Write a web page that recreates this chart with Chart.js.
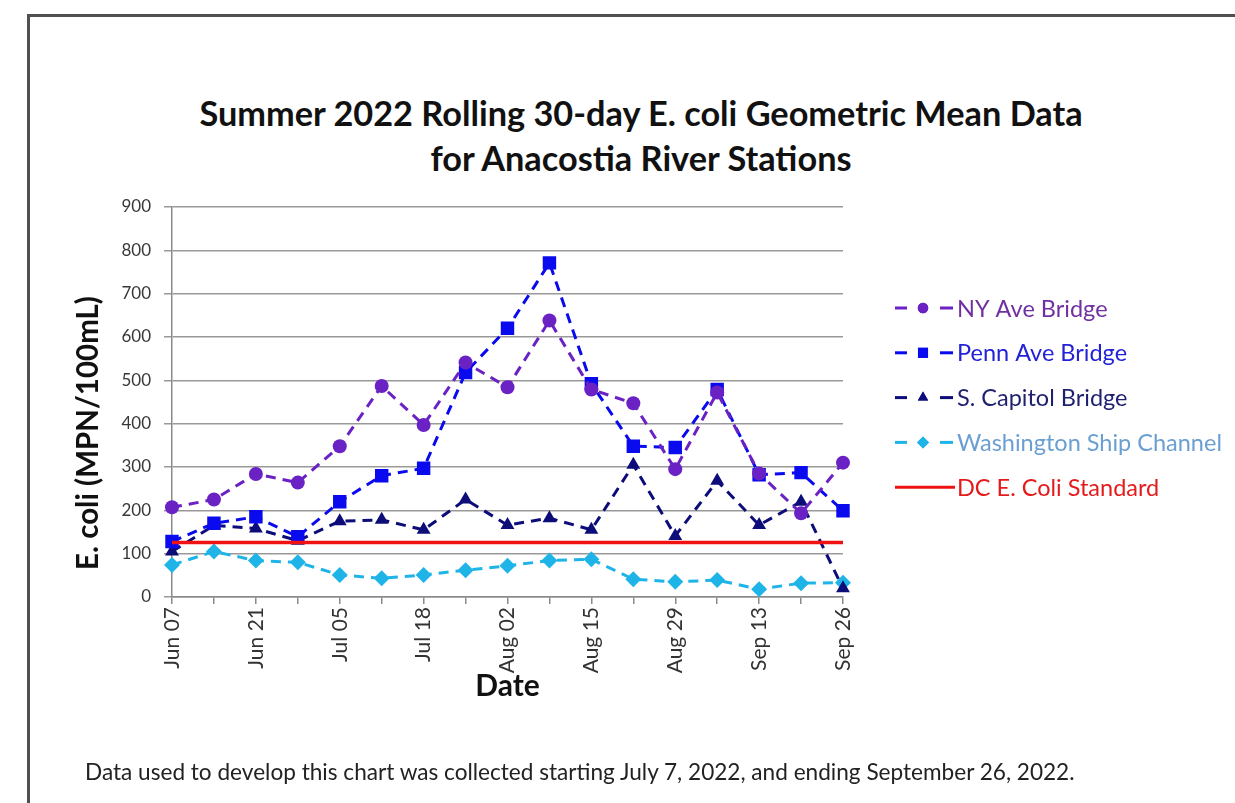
<!DOCTYPE html>
<html><head><meta charset="utf-8">
<script src="https://cdn.jsdelivr.net/npm/chart.js@4.4.1/dist/chart.umd.min.js"></script>
<style>
html,body{margin:0;padding:0;background:#fff;width:1235px;height:803px;overflow:hidden;font-family:Lato,sans-serif}
#frame{position:absolute;left:27px;top:14px;width:1300px;height:900px;border-left:3px solid #505050;border-top:3px solid #505050}
#wrap{position:absolute;left:0;top:0;width:1235px;height:803px}
#title{position:absolute;left:141px;width:1000px;top:90px;text-align:center;font-weight:bold;font-size:34.3px;line-height:45px;color:#111;white-space:nowrap}
#foot{position:absolute;left:85px;top:758px;font-size:22.6px;color:#222;white-space:nowrap}
</style></head><body>
<div id="frame"></div>
<div id="title">Summer 2022 Rolling 30-day E. coli Geometric Mean Data<br>for Anacostia River Stations</div>
<div id="wrap"><canvas id="c"></canvas></div>
<div id="foot">Data used to develop this chart was collected starting July 7, 2022, and ending September 26, 2022.</div>
<script>
const dates = ['Jun 07','Jun 14','Jun 21','Jun 28','Jul 05','Jul 12','Jul 18','Jul 25','Aug 02','Aug 08','Aug 15','Aug 22','Aug 29','Sep 06','Sep 13','Sep 20','Sep 26'];
const nyAve      = [207, 225, 284, 264, 348, 487, 397, 541, 484, 638, 479, 447, 295, 472, 285, 193, 310];
const pennAve    = [128, 170, 185, 139, 220, 280, 297, 518, 620, 771, 492, 348, 345, 479, 282, 287, 199];
const sCapitol   = [105, 165, 158, 130, 175, 178, 155, 225, 166, 182, 155, 305, 141, 268, 166, 220, 20];
const shipChannel= [74, 105, 84, 80, 51, 43, 51, 62, 72, 84, 87, 41, 35, 39, 18, 32, 33];
const dcStandard = [126, 126, 126, 126, 126, 126, 126, 126, 126, 126, 126, 126, 126, 126, 126, 126, 126];
const yTicks = [0, 100, 200, 300, 400, 500, 600, 700, 800, 900];

const seriesNames = ['NY Ave Bridge','Penn Ave Bridge','S. Capitol Bridge','Washington Ship Channel','DC E. Coli Standard'];
const legendText = ['#7030A0','#2323D6','#1F1F70','#6A9FD2','#E41B1B'];
const yTitle = 'E. coli (MPN/100mL)';

const dash = [10, 7];
function ds(label, data, color, style, r) {
  return {label, data, borderColor: color, backgroundColor: color, borderWidth: 3,
    borderDash: dash, pointStyle: style, pointRadius: r, pointHoverRadius: r,
    pointBorderWidth: 0, tension: 0, fill: false};
}

const legendPlugin = {
  id: 'customLegend',
  afterDraw(chart) {
    const ctx = chart.ctx;
    const x0 = 895, y0 = 308, step = 44.8;
    chart.data.datasets.forEach((d, i) => {
      const y = y0 + i * step;
      ctx.save();
      ctx.strokeStyle = d.borderColor;
      ctx.lineWidth = 3;
      if (d.pointRadius > 0) {
        ctx.beginPath(); ctx.moveTo(x0, y); ctx.lineTo(x0 + 12, y); ctx.stroke();
        ctx.beginPath(); ctx.moveTo(x0 + 45, y); ctx.lineTo(x0 + 58, y); ctx.stroke();
        ctx.fillStyle = d.backgroundColor;
        Chart.helpers.drawPoint(ctx, {pointStyle: d.pointStyle, radius: d.pointRadius * 0.75, rotation: 0, borderWidth: 0}, x0 + 28, y);
        ctx.fill();
      } else {
        ctx.beginPath(); ctx.moveTo(x0, y); ctx.lineTo(x0 + 60, y); ctx.stroke();
      }
      ctx.fillStyle = legendText[i];
      ctx.font = '23.5px Lato, sans-serif';
      ctx.textBaseline = 'middle';
      ctx.textAlign = 'left';
      ctx.fillText(d.label, x0 + 62, y + 1);
      ctx.restore();
    });
    // y-axis title
    ctx.save();
    ctx.translate(88, 433);
    ctx.rotate(-Math.PI / 2);
    ctx.fillStyle = '#111';
    ctx.font = 'bold 29.5px Lato, sans-serif';
    ctx.textAlign = 'center';
    ctx.textBaseline = 'middle';
    ctx.fillText(yTitle, 0, 0);
    ctx.restore();
  }
};

new Chart(document.getElementById('c'), {
  type: 'line',
  data: {
    labels: dates,
    datasets: [
      ds(seriesNames[0], nyAve, '#6A22C4', 'circle', 7),
      ds(seriesNames[1], pennAve, '#0A0AEE', 'rect', 9.5),
      ds(seriesNames[2], sCapitol, '#0D0D7A', 'triangle', 8),
      ds(seriesNames[3], shipChannel, '#1FB4E8', 'rectRot', 8),
      {label: seriesNames[4], data: dcStandard, borderColor: '#F01212', backgroundColor: '#F01212',
       borderWidth: 3.5, pointRadius: 0, pointHoverRadius: 0, fill: false, order: -1}
    ]
  },
  plugins: [legendPlugin],
  options: {
    responsive: true, maintainAspectRatio: false, animation: false,
    layout: {padding: {left: 62, right: 392, top: 207, bottom: 96}},
    plugins: {legend: {display: false}, title: {display: false}, tooltip: {enabled: false}},
    scales: {
      x: {
        type: 'category', offset: false,
        grid: {display: true, drawOnChartArea: false, drawTicks: true, tickLength: 7, color: '#8a8a8a', lineWidth: 1.5},
        border: {display: true, color: '#8a8a8a', width: 1.5},
        ticks: {autoSkip: false, maxRotation: 90, minRotation: 90, padding: 3, color: '#333',
          font: {family: 'Lato', size: 21},
          callback: (v, i) => (i % 2 === 0 ? dates[i] : '')},
        title: {display: true, text: 'Date', color: '#111', font: {family: 'Lato', size: 30, weight: 'bold'}, padding: {top: 0, bottom: 3}},
        afterFit: s => { s.height = 110; }
      },
      y: {
        type: 'linear', min: 0, max: 900,
        afterBuildTicks: s => { s.ticks = yTicks.map(v => ({value: v})); },
        grid: {color: '#999', lineWidth: 1.5, tickLength: 8},
        border: {display: true, color: '#8a8a8a', width: 1.5},
        ticks: {color: '#383838', padding: 13, font: {family: 'Lato', size: 17}},
        title: {display: false},
        afterFit: s => { s.width = 110; }
      }
    }
  }
});
</script>
</body></html>
